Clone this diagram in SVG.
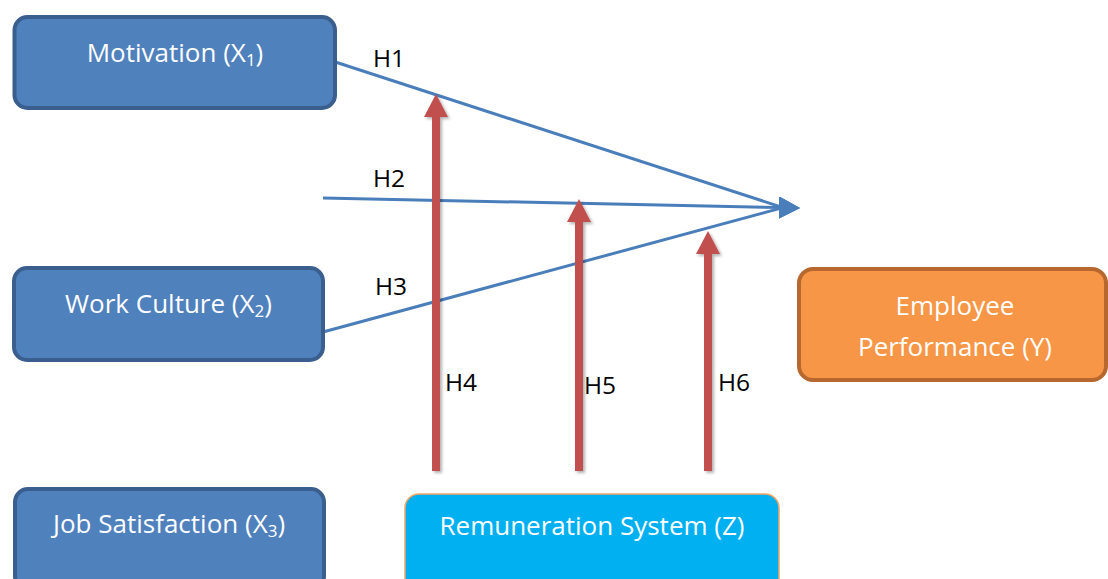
<svg xmlns="http://www.w3.org/2000/svg" width="1108" height="579" viewBox="0 0 1108 579">
<style>
.bx{fill:#4f81bd;stroke:#3a5f8e;stroke-width:4}
.lbl{font-family:"Open Sans","Liberation Sans",sans-serif;font-size:26px;fill:#ffffff;text-anchor:middle}
.h{font-family:"Open Sans","Liberation Sans",sans-serif;font-size:24.5px;fill:#000000}
.blue{stroke:#4a7ebb;stroke-width:3;fill:none}
.red{stroke:#c0504d;stroke-width:8;fill:none}
.sub{font-size:17px}
</style>
<defs>
<marker id="ab" markerUnits="userSpaceOnUse" markerWidth="24" markerHeight="24" refX="4" refY="11" orient="1.2" viewBox="0 0 24 24">
<path d="M0,0 L21,11 L0,22 z" fill="#4a7ebb"/>
</marker>
<marker id="ar" markerUnits="userSpaceOnUse" markerWidth="26" markerHeight="26" refX="4" refY="12" orient="auto" viewBox="0 0 26 26">
<path d="M0,0 L23,12 L0,24 z" fill="#c0504d"/>
</marker>
<filter id="sh" x="-50%" y="-10%" width="200%" height="120%">
<feDropShadow dx="2" dy="2" stdDeviation="1.5" flood-color="#000" flood-opacity="0.3"/>
</filter>
</defs>
<g id="connectors">
<path class="blue" d="M323,58 L783,207.6" marker-end="url(#ab)"/>
<path class="blue" d="M323,198 L783,207.6" marker-end="url(#ab)"/>
<path class="blue" d="M323,332 L783,207.6" marker-end="url(#ab)"/>
<g filter="url(#sh)">
<path class="red" d="M436,471 L436,113" marker-end="url(#ar)"/>
<path class="red" d="M579,471 L579,218" marker-end="url(#ar)"/>
<path class="red" d="M708,471 L708,250" marker-end="url(#ar)"/>
</g>
<text class="h" x="373" y="67">H1</text>
<text class="h" x="373" y="187">H2</text>
<text class="h" x="375" y="295">H3</text>
<text class="h" x="445" y="391">H4</text>
<text class="h" x="584" y="394">H5</text>
<text class="h" x="718" y="391">H6</text>
</g>
<g id="motivation">
<rect class="bx" x="14.5" y="17" width="320.5" height="91" rx="13"/>
<text class="lbl" x="175" y="62">Motivation (X<tspan class="sub" dy="4">1</tspan><tspan dy="-4">)</tspan></text>
</g>
<g id="work-culture">
<rect class="bx" x="14" y="268" width="309" height="92" rx="13"/>
<text class="lbl" x="168.5" y="313">Work Culture (X<tspan class="sub" dy="4">2</tspan><tspan dy="-4">)</tspan></text>
</g>
<g id="job-satisfaction">
<rect class="bx" x="15" y="489" width="309" height="100" rx="13"/>
<text class="lbl" x="169" y="533">Job Satisfaction (X<tspan class="sub" dy="4">3</tspan><tspan dy="-4">)</tspan></text>
</g>
<g id="remuneration">
<rect x="405" y="494" width="374" height="100" rx="14" fill="#00b0f0" stroke="#f3a464" stroke-width="1.5"/>
<text class="lbl" x="592" y="535">Remuneration System (Z)</text>
</g>
<g id="employee-performance">
<rect x="799" y="269" width="307" height="111" rx="14" fill="#f79646" stroke="#b6682f" stroke-width="4"/>
<text class="lbl" x="955" y="315">Employee</text>
<text class="lbl" x="955" y="356">Performance (Y)</text>
</g>
</svg>
